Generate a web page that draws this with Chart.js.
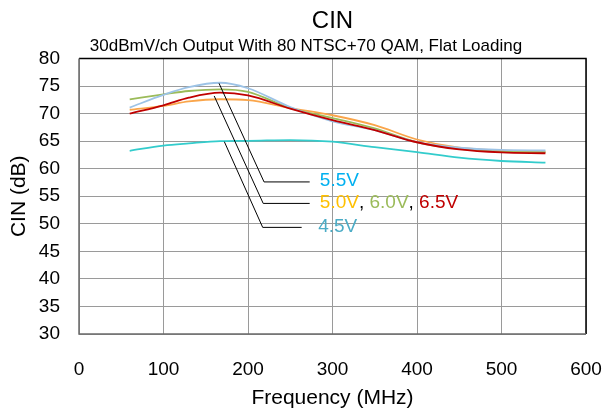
<!DOCTYPE html>
<html>
<head>
<meta charset="utf-8">
<script src="https://cdn.jsdelivr.net/npm/chart.js@4/dist/chart.umd.min.js"></script>
<style>
  html, body { margin: 0; padding: 0; background: #ffffff; }
  canvas { display: block; }
</style>
</head>
<body>
<canvas id="cin" width="605" height="414"></canvas>
<script>
// Measurement frequencies (MHz)
const freqMHz = [60, 100, 130, 167, 200, 250, 300, 350, 400, 450, 500, 552];

// CIN (dB) per supply voltage
const cin45 = [63.25, 64.2, 64.6, 65.0, 65.05, 65.2, 64.9, 63.9, 63.0, 62.0, 61.4, 61.1];
const cin50 = [70.7, 71.4, 72.2, 72.6, 72.45, 71.0, 69.7, 67.9, 65.3, 63.8, 63.3, 63.1];
const cin55 = [71.1, 73.4, 74.8, 75.6, 74.6, 71.2, 68.6, 67.0, 64.8, 63.8, 63.4, 63.3];
const cin60 = [72.6, 73.5, 74.1, 74.4, 73.95, 71.0, 69.2, 67.3, 64.8, 63.6, 63.1, 63.0];
const cin65 = [70.0, 71.5, 72.9, 73.8, 73.3, 70.9, 68.8, 67.0, 64.8, 63.5, 62.95, 62.8];

// Axis ticks
const xTicks = [0, 100, 200, 300, 400, 500, 600];
const yTicks = [30, 35, 40, 45, 50, 55, 60, 65, 70, 75, 80];

const FONT = "'Liberation Sans', Arial, sans-serif";

function pts(ys) { return freqMHz.map((f, i) => ({ x: f, y: ys[i] })); }

// Callouts: leader from a curve, via a knee, to a horizontal run, then coloured labels
const callouts = [
  { path: [[165.7, 75.5], [219, 57.6], [273, 57.6]], labelAt: 285,
    parts: [["5.5V", "#00B0F0"]] },
  { path: [[160, 73.2], [218, 53.7], [273, 53.7]], labelAt: 285,
    parts: [["5.0V", "#FFC000"], [", ", "#000000"], ["6.0V", "#9BBB59"], [", ", "#000000"], ["6.5V", "#C00000"]] },
  { path: [[172, 64.9], [217.4, 49.35], [263.5, 49.35]], labelAt: 283,
    parts: [["4.5V", "#4BACC6"]] }
];

const headerPlugin = {
  id: 'header',
  afterDraw(chart) {
    const { ctx, chartArea } = chart;
    ctx.save();
    ctx.fillStyle = '#000';
    ctx.textAlign = 'center';
    ctx.textBaseline = 'middle';
    ctx.font = '24px ' + FONT;
    ctx.fillText('CIN', (chartArea.left + chartArea.right) / 2, 21);
    ctx.font = '17px ' + FONT;
    ctx.fillText('30dBmV/ch Output With 80 NTSC+70 QAM, Flat Loading', 306, 46);
    ctx.restore();
  }
};

const framePlugin = {
  id: 'frame',
  afterDatasetsDraw(chart) {
    const { ctx, chartArea: a } = chart;
    ctx.save();
    ctx.lineWidth = 1.5;
    ctx.strokeStyle = '#000';
    ctx.beginPath();
    ctx.moveTo(a.left, a.top); ctx.lineTo(a.right, a.top); ctx.lineTo(a.right, a.bottom);
    ctx.stroke();
    ctx.strokeStyle = '#6b6b6b';
    ctx.beginPath();
    ctx.moveTo(a.left, a.top); ctx.lineTo(a.left, a.bottom); ctx.lineTo(a.right, a.bottom);
    ctx.stroke();
    ctx.restore();
  }
};

const calloutPlugin = {
  id: 'callouts',
  afterDatasetsDraw(chart) {
    const { ctx } = chart;
    const xs = chart.scales.x, ys = chart.scales.y;
    ctx.save();
    ctx.lineWidth = 1;
    ctx.strokeStyle = '#000';
    callouts.forEach(c => {
      ctx.beginPath();
      c.path.forEach(([f, v], i) => {
        const px = xs.getPixelForValue(f), py = ys.getPixelForValue(v);
        if (i === 0) ctx.moveTo(px, py); else ctx.lineTo(px, py);
      });
      ctx.stroke();
      const yMid = ys.getPixelForValue(c.path[c.path.length - 1][1]) - 1;
      let x = xs.getPixelForValue(c.labelAt);
      ctx.font = '19px ' + FONT;
      ctx.textAlign = 'left';
      ctx.textBaseline = 'middle';
      c.parts.forEach(([t, col]) => {
        ctx.fillStyle = col;
        ctx.fillText(t, x, yMid);
        x += ctx.measureText(t).width;
      });
    });
    ctx.restore();
  }
};

const series = [
  { label: '6.5V', data: cin65, color: '#C00000' },
  { label: '5.5V', data: cin55, color: '#9DC3E6' },
  { label: '6.0V', data: cin60, color: '#9BBB59' },
  { label: '5.0V', data: cin50, color: '#FAA54A' },
  { label: '4.5V', data: cin45, color: '#33CCCC' }
];

new Chart(document.getElementById('cin'), {
  type: 'line',
  data: {
    datasets: series.map(s => ({
      label: s.label,
      data: pts(s.data),
      borderColor: s.color,
      backgroundColor: s.color,
      borderWidth: 1.8,
      pointRadius: 0,
      cubicInterpolationMode: 'monotone',
      fill: false
    }))
  },
  options: {
    responsive: false,
    animation: false,
    devicePixelRatio: 1,
    layout: { padding: { left: 0, top: 58.5, right: 0, bottom: 0 } },
    plugins: { legend: { display: false }, tooltip: { enabled: false }, title: { display: false } },
    scales: {
      x: {
        type: 'linear', min: 0, max: 600,
        afterBuildTicks: s => { s.ticks = xTicks.map(v => ({ value: v })); },
        afterFit: s => { s.height = 80; s.paddingRight = 19; },
        ticks: { color: '#000', padding: 24, font: { family: FONT, size: 19 } },
        grid: { color: '#9a9a9a', lineWidth: 1, drawTicks: false },
        border: { display: false },
        title: { display: true, text: 'Frequency (MHz)', color: '#000',
                 font: { family: FONT, size: 21 }, padding: { top: 0, bottom: 3 } }
      },
      y: {
        type: 'linear', min: 30, max: 80,
        afterBuildTicks: s => { s.ticks = yTicks.map(v => ({ value: v })); },
        afterFit: s => { s.width = 79; },
        ticks: { color: '#000', padding: 19, font: { family: FONT, size: 19 } },
        grid: { color: '#9a9a9a', lineWidth: 1, drawTicks: false },
        border: { display: false },
        title: { display: true, text: 'CIN (dB)', color: '#000',
                 font: { family: FONT, size: 21 }, padding: { top: 7, bottom: 0 } }
      }
    }
  },
  plugins: [headerPlugin, framePlugin, calloutPlugin]
});
</script>
</body>
</html>
